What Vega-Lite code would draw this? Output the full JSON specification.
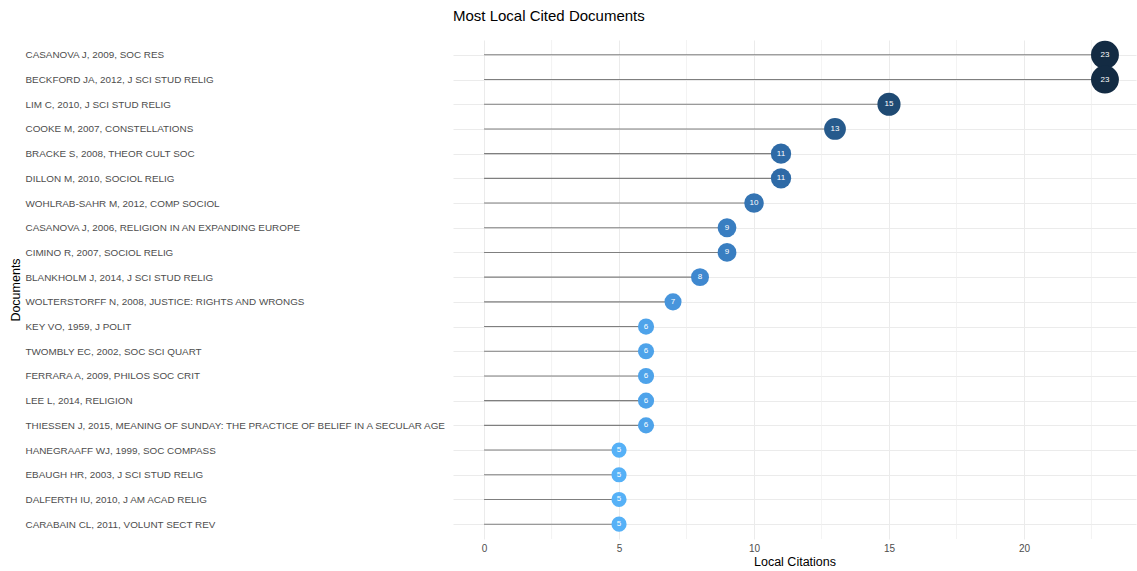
{
  "$schema": "https://vega.github.io/schema/vega-lite/v6.json",
  "width": 683,
  "height": 499,
  "autosize": {"type": "none"},
  "padding": {"left": 453, "top": 40, "right": 1, "bottom": 32},
  "background": "white",
  "config": {
    "view": {"stroke": null},
    "font": "Liberation Sans"
  },
  "title": {
    "text": "Most Local Cited Documents",
    "anchor": "start",
    "frame": "group",
    "fontSize": 15,
    "fontWeight": "normal",
    "font": "Liberation Sans",
    "color": "#000000",
    "offset": 16
  },
  "data": {
    "values": [
      {"doc": "CASANOVA J, 2009, SOC RES", "value": 23},
      {"doc": "BECKFORD JA, 2012, J SCI STUD RELIG", "value": 23},
      {"doc": "LIM C, 2010, J SCI STUD RELIG", "value": 15},
      {"doc": "COOKE M, 2007, CONSTELLATIONS", "value": 13},
      {"doc": "BRACKE S, 2008, THEOR CULT SOC", "value": 11},
      {"doc": "DILLON M, 2010, SOCIOL RELIG", "value": 11},
      {"doc": "WOHLRAB-SAHR M, 2012, COMP SOCIOL", "value": 10},
      {"doc": "CASANOVA J, 2006, RELIGION IN AN EXPANDING EUROPE", "value": 9},
      {"doc": "CIMINO R, 2007, SOCIOL RELIG", "value": 9},
      {"doc": "BLANKHOLM J, 2014, J SCI STUD RELIG", "value": 8},
      {"doc": "WOLTERSTORFF N, 2008, JUSTICE: RIGHTS AND WRONGS", "value": 7},
      {"doc": "KEY VO, 1959, J POLIT", "value": 6},
      {"doc": "TWOMBLY EC, 2002, SOC SCI QUART", "value": 6},
      {"doc": "FERRARA A, 2009, PHILOS SOC CRIT", "value": 6},
      {"doc": "LEE L, 2014, RELIGION", "value": 6},
      {"doc": "THIESSEN J, 2015, MEANING OF SUNDAY: THE PRACTICE OF BELIEF IN A SECULAR AGE", "value": 6},
      {"doc": "HANEGRAAFF WJ, 1999, SOC COMPASS", "value": 5},
      {"doc": "EBAUGH HR, 2003, J SCI STUD RELIG", "value": 5},
      {"doc": "DALFERTH IU, 2010, J AM ACAD RELIG", "value": 5},
      {"doc": "CARABAIN CL, 2011, VOLUNT SECT REV", "value": 5}
    ]
  },
  "layer": [
    {
      "data": {"values": [{"m": 2.5}, {"m": 7.5}, {"m": 12.5}, {"m": 17.5}, {"m": 22.5}]},
      "mark": {"type": "rule", "color": "#eeeeee", "strokeWidth": 0.7},
      "encoding": {
        "x": {"field": "m", "type": "quantitative"}
      }
    },
    {
      "mark": {"type": "bar", "color": "#7f7f7f", "height": 1.1},
      "encoding": {
        "y": {
          "field": "doc", "type": "nominal", "sort": null,
          "scale": {"type": "point", "padding": 0.6},
          "axis": {
            "title": "Documents",
            "labelAlign": "left",
            "labelPadding": 428,
            "ticks": false,
            "domain": false,
            "labelFontSize": 9.9,
            "labelColor": "#4d4d4d",
            "labelFont": "Liberation Sans",
            "labelLimit": 500,
            "grid": true,
            "gridColor": "#ebebeb",
            "gridWidth": 1,
            "titleX": -438,
            "titleY": 249.5,
            "titleAngle": -90,
            "titleAlign": "center",
            "titleBaseline": "middle",
            "titleFontSize": 12.5,
            "titleFontWeight": "normal",
            "titleColor": "#000000",
            "titleFont": "Liberation Sans"
          }
        },
        "x": {
          "field": "value", "type": "quantitative",
          "scale": {"domain": [-1.15, 24.15], "nice": false, "zero": false},
          "axis": {
            "title": "Local Citations",
            "values": [0, 5, 10, 15, 20],
            "grid": true,
            "gridColor": "#ebebeb",
            "gridWidth": 1,
            "ticks": false,
            "domain": false,
            "labelFontSize": 10,
            "labelColor": "#4d4d4d",
            "labelFont": "Liberation Sans",
            "labelPadding": 4,
            "titleFontSize": 12.5,
            "titleFontWeight": "normal",
            "titleColor": "#000000",
            "titleFont": "Liberation Sans",
            "titlePadding": 2
          }
        }
      }
    },
    {
      "mark": {"type": "circle", "opacity": 1},
      "encoding": {
        "y": {"field": "doc", "type": "nominal", "sort": null},
        "x": {"field": "value", "type": "quantitative"},
        "color": {
          "field": "value", "type": "quantitative",
          "scale": {"domain": [5, 8, 11, 15, 23], "range": ["#56B1F7", "#3f88cf", "#2e6aa6", "#1f4a73", "#132B43"], "interpolate": "lab"},
          "legend": null
        },
        "size": {
          "field": "value", "type": "quantitative",
          "scale": {"domain": [5, 23], "range": [230, 780], "zero": false},
          "legend": null
        }
      }
    },
    {
      "mark": {"type": "text", "color": "white", "fontSize": 8, "font": "Liberation Sans", "align": "center", "baseline": "middle"},
      "encoding": {
        "y": {"field": "doc", "type": "nominal", "sort": null},
        "x": {"field": "value", "type": "quantitative"},
        "text": {"field": "value", "type": "quantitative"}
      }
    }
  ]
}
